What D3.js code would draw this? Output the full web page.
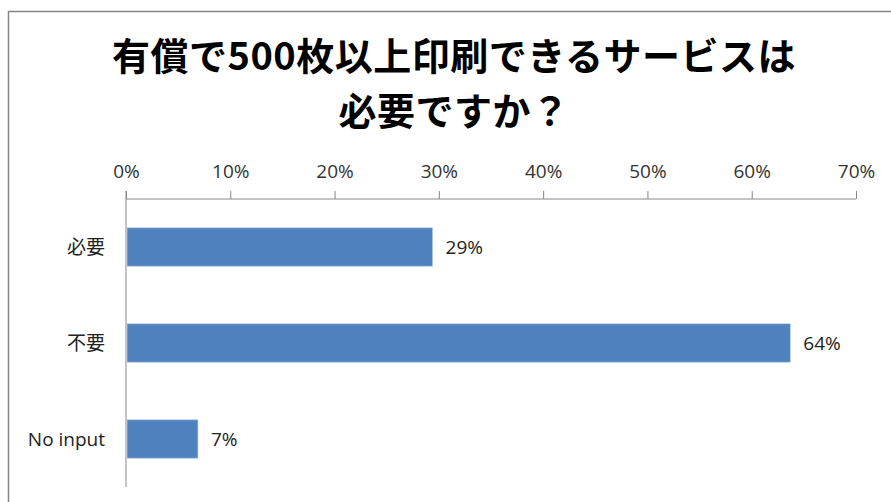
<!DOCTYPE html>
<html>
<head>
<meta charset="utf-8">
<script src="https://cdn.jsdelivr.net/npm/d3@7"></script>
<style>
body { margin: 0; background: #fff; }
</style>
</head>
<body>
<script>
var width = 891,
    height = 502;

var titleLines = ["有償で500枚以上印刷できるサービスは", "必要ですか？"];
var categories = ["必要", "不要", "No input"];
var values = [29.4, 63.7, 6.9];
var valueLabels = ["29%", "64%", "7%"];
var ticks = [0, 10, 20, 30, 40, 50, 60, 70];

var margin = { left: 126, right: 35, top: 199, bottom: 15 };

var svg = d3.select("body").append("svg")
    .attr("width", width)
    .attr("height", height)
    .style("background", "#fff");

// outer chart border
svg.append("rect")
    .attr("x", 8.5)
    .attr("y", 11.5)
    .attr("width", 900)
    .attr("height", 520)
    .attr("fill", "none")
    .attr("stroke", "#868686")
    .attr("stroke-width", 1.5);

svg.selectAll("text.title")
    .data(titleLines)
    .enter().append("text")
    .attr("class", "title")
    .attr("x", 454)
    .attr("y", function(d, i) { return 70 + i * 55; })
    .attr("text-anchor", "middle")
    .style("font-family", "'Noto Sans CJK JP', sans-serif")
    .style("font-weight", "bold")
    .style("font-size", "38px")
    .style("letter-spacing", "0.5px")
    .style("fill", "#000")
    .text(function(d) { return d; });

var x = d3.scaleLinear()
    .domain([0, 70])
    .range([margin.left, width - margin.right]);

var y = d3.scaleBand()
    .domain(categories)
    .range([margin.top, height - margin.bottom])
    .paddingInner(0.6)
    .paddingOuter(0.3);

var xAxis = svg.append("g")
    .attr("transform", "translate(0," + margin.top + ")")
    .call(d3.axisTop(x)
        .tickValues(ticks)
        .tickSize(8)
        .tickPadding(13)
        .tickFormat(function(d) { return d + "%"; }));

xAxis.select(".domain")
    .attr("stroke", "#888")
    .attr("d", "M" + x(0) + ",0H" + x(70));
xAxis.selectAll(".tick line").attr("stroke", "#888");
xAxis.selectAll(".tick text")
    .style("font-family", "'Open Sans', sans-serif")
    .style("font-size", "19px")
    .style("fill", "#333");

// vertical category axis line
svg.append("line")
    .attr("x1", x(0))
    .attr("x2", x(0))
    .attr("y1", margin.top - 8)
    .attr("y2", height - margin.bottom)
    .attr("stroke", "#888");

svg.selectAll("rect.bar")
    .data(values)
    .enter().append("rect")
    .attr("class", "bar")
    .attr("x", x(0) + 1)
    .attr("y", function(d, i) { return y(categories[i]); })
    .attr("width", function(d) { return x(d) - x(0) - 1; })
    .attr("height", y.bandwidth())
    .attr("fill", "#4f81bd")
    .attr("stroke", "#b9cde5")
    .attr("stroke-width", 0.7);

svg.selectAll("text.val")
    .data(values)
    .enter().append("text")
    .attr("class", "val")
    .attr("x", function(d) { return x(d) + 13; })
    .attr("y", function(d, i) { return y(categories[i]) + y.bandwidth() / 2; })
    .attr("dy", "0.36em")
    .style("font-family", "'Open Sans', sans-serif")
    .style("font-size", "19px")
    .style("fill", "#222")
    .text(function(d, i) { return valueLabels[i]; });

svg.selectAll("text.cat")
    .data(categories)
    .enter().append("text")
    .attr("class", "cat")
    .attr("x", 105)
    .attr("y", function(d) { return y(d) + y.bandwidth() / 2; })
    .attr("dy", "0.36em")
    .attr("text-anchor", "end")
    .style("font-family", "'Open Sans', 'Noto Sans CJK JP', sans-serif")
    .style("font-size", "19px")
    .style("fill", "#222")
    .text(function(d) { return d; });
</script>
</body>
</html>
